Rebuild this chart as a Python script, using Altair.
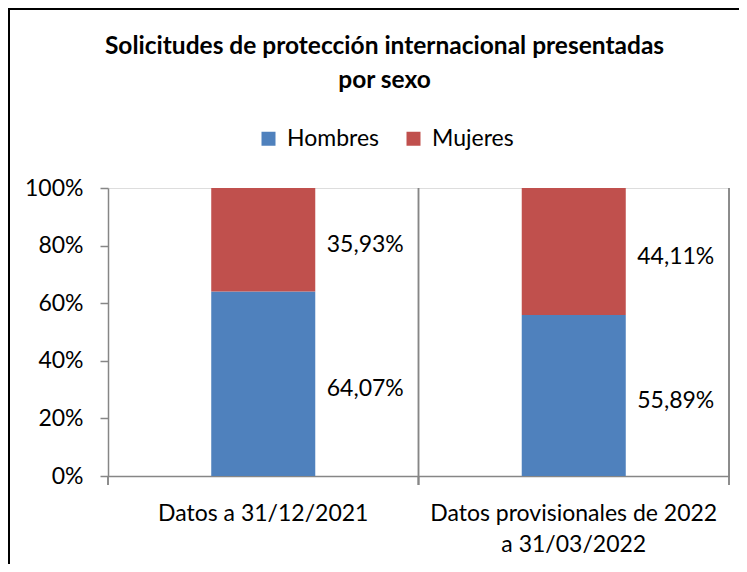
import altair as alt
import pandas as pd

# Data
categories = ["Datos a 31/12/2021", "Datos provisionales de 2022\na 31/03/2022"]
series = ["Hombres", "Mujeres"]
hombres = [64.07, 55.89]
mujeres = [35.93, 44.11]
y_ticks = [0, 20, 40, 60, 80, 100]
colors = ["#4F81BD", "#C0504D"]
title_lines = ["Solicitudes de protección internacional presentadas", "por sexo"]

rows = []
for i, c in enumerate(categories):
    rows.append({"cat": c, "serie": "Hombres", "orden": 0, "v": hombres[i]})
    rows.append({"cat": c, "serie": "Mujeres", "orden": 1, "v": mujeres[i]})
df = pd.DataFrame(rows)

FONT = "Lato"
FS = 23
W, H = 621, 288

x_enc = alt.X(
    "cat:N",
    sort=categories,
    scale=alt.Scale(paddingInner=0, paddingOuter=0),
    axis=alt.Axis(
        title=None,
        labelAngle=0,
        labelAlign="center",
        labelExpr="split(datum.label, '\\n')",
        labelFont=FONT,
        labelFontSize=FS,
        labelColor="black",
        labelLimit=400,
        labelLineHeight=31,
        labelPadding=37,
        ticks=False,
        tickSize=0,
        domainColor="#868686",
        domainWidth=1.5,
        grid=False,
    ),
)

bars = alt.Chart(df).mark_bar(width=alt.RelativeBandSize(0.335)).encode(
    x=x_enc,
    y=alt.Y(
        "v:Q",
        stack="zero",
        scale=alt.Scale(domain=[0, 100], nice=False),
        axis=alt.Axis(
            title=None,
            values=y_ticks,
            labelExpr="datum.value + '%'",
            labelFont=FONT,
            labelFontSize=FS,
            labelColor="black",
            labelPadding=17,
            tickSize=8,
            tickColor="#868686",
            tickWidth=1.5,
            domainColor="#868686",
            domainWidth=1.5,
            grid=False,
        ),
    ),
    color=alt.Color(
        "serie:N",
        sort=series,
        scale=alt.Scale(domain=series, range=colors),
        legend=alt.Legend(
            title=None,
            orient="none",
            legendX=149,
            legendY=-61,
            direction="horizontal",
            symbolType="square",
            symbolSize=196,
            symbolStrokeWidth=0,
            labelFont=FONT,
            labelFontSize=FS,
            labelColor="black",
            labelOffset=7,
            columnPadding=22,
            padding=0,
        ),
    ),
    order=alt.Order("orden:Q"),
)

labels = (
    alt.Chart(df)
    .transform_stack(stack="v", groupby=["cat"], as_=["y0", "y1"], sort=[alt.SortField("orden")])
    .transform_calculate(
        mid="(datum.y0 + datum.y1) / 2",
        txt="replace(format(datum.v, '.2f'), '.', ',') + '%'",
    )
    .mark_text(align="center", baseline="middle", dx=102, dy=5, font=FONT, fontSize=FS, color="black")
    .encode(
        x=alt.X("cat:N", sort=categories),
        y=alt.Y("mid:Q"),
        text="txt:N",
    )
)

grid_end = alt.Chart(df).mark_rule(color="#868686", strokeWidth=1.5).encode(
    x=alt.X("cat:N", sort=categories, bandPosition=1),
    y=alt.value(0),
    y2=alt.value(H + 9),
)
grid_start = alt.Chart(df).mark_rule(color="#868686", strokeWidth=1.5).encode(
    x=alt.X("cat:N", sort=categories, bandPosition=0),
    y=alt.value(H),
    y2=alt.value(H + 9),
)

frame = alt.Chart(pd.DataFrame({"a": [0]})).mark_rect(
    filled=False, stroke="black", strokeWidth=2, clip=False
).encode(
    x=alt.value(-99),
    x2=alt.value(700),
    y=alt.value(-179),
    y2=alt.value(500),
)

chart = (
    alt.layer(frame, grid_end, grid_start, bars, labels)
    .properties(
        width=W,
        height=H,
        title=alt.TitleParams(
            text=title_lines,
            font=FONT,
            fontSize=24.5,
            fontWeight="bold",
            color="black",
            anchor="middle",
            frame="group",
            baseline="bottom",
            lineHeight=34,
            offset=-109,
            dx=-34,
        ),
        autosize=alt.AutoSizeParams(type="none"),
        padding={"left": 100, "top": 180, "right": 10, "bottom": 88},
    )
    .configure_view(stroke=None)
    .configure(background="white")
)

chart.save("out.html", embed_options={"renderer": "svg", "actions": False})
